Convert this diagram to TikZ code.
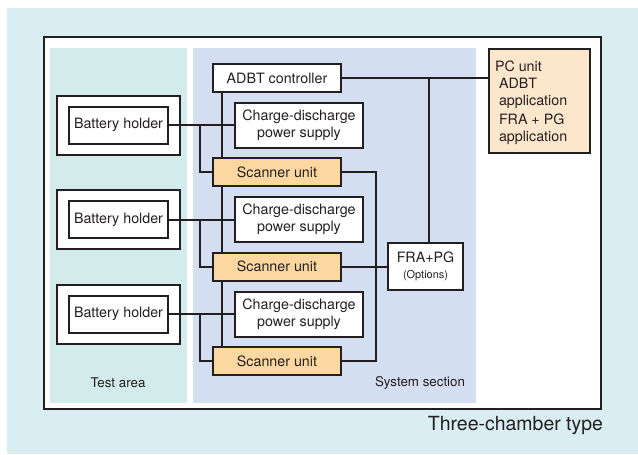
\documentclass[tikz,border=0pt]{standalone}
\usepackage{fontspec}
\setmainfont{TeX Gyre Heros}
\usepackage{xcolor}
\usepackage{tikz}
\definecolor{bgblue}{HTML}{D9EEF2}
\definecolor{testarea}{HTML}{D3EBEB}
\definecolor{syssec}{HTML}{D3DEF0}
\definecolor{scanfill}{HTML}{FCD8A0}
\definecolor{pcfill}{HTML}{FDE7CC}
\definecolor{ink}{HTML}{231F20}

\begin{document}
\begin{tikzpicture}[x=0.75pt, y=-0.75pt, line width=1.5pt,
  txt/.style={font=\fontsize{10.7}{12.5}\selectfont, text=ink, align=center, inner sep=0pt},
  unit/.style={txt, draw=ink, fill=white, minimum width=96pt, minimum height=21pt},
  supply/.style={unit, minimum height=33.75pt},
  scanner/.style={unit, fill=scanfill},
  holder/.style={txt, draw=ink, fill=white, minimum width=74.25pt, minimum height=27.75pt},
  holderbox/.style={draw=ink, fill=white, minimum width=92.25pt, minimum height=44.25pt, inner sep=0pt},
  lbl/.style={font=\fontsize{10}{12}\selectfont, text=ink, inner sep=0pt}]
\useasboundingbox (0,0) rectangle (638,454);
\fill[bgblue] (7,8) rectangle (638,454);
\draw[ink, fill=white] (44,37) rectangle (601,409);
\fill[testarea] (50,48) rectangle (187,403);
\fill[syssec] (193,48) rectangle (476,403);

% controller, PC and FRA
\node[unit] (adbt) at (277,78) {ADBT controller};
\node[draw=ink, fill=pcfill, minimum width=75.75pt, minimum height=78pt] (pc) at (539.5,101) {};
\node[txt, align=left, anchor=north west] (pctext) at (494,59.5)
  {PC unit\\[0.5pt]\hspace*{3pt}ADBT\\\hspace*{3pt}application\\[2pt]\hspace*{3pt}FRA + PG\\\hspace*{3pt}application};
\node[txt, draw=ink, fill=white, minimum width=56.25pt, minimum height=35.25pt] (fra) at (425.5,266.5)
  {FRA+PG\\[-1pt]{\fontsize{8.2}{10}\selectfont (Options)}};

% three chambers
\foreach \i/\y in {1/125,2/219.5,3/314} {
  \node[holderbox] (bh\i) at (118.5,\y) {};
  \node[holder] (bhi\i) at (118.5,\y) {Battery holder};
  \node[supply] (cd\i) at (299,\y) {Charge-discharge\\power supply};
  \coordinate (j\i) at (200,\y);
}
\foreach \i/\y in {1/172,2/266.5,3/361}
  \node[scanner] (sc\i) at (277,\y) {Scanner unit};

% connectors
\draw[ink] (adbt.east) -- (adbt.east -| pc.west);
\draw[ink] ([xshift=2.6pt]fra.north) -- ([xshift=2.6pt]fra.north |- adbt.east);
\draw[ink] ([xshift=7.5pt]adbt.south west) -- ([xshift=7.5pt]sc1.north west);
\draw[ink] ([xshift=7.5pt]sc1.south west) -- ([xshift=7.5pt]sc2.north west);
\draw[ink] ([xshift=7.5pt]sc2.south west) -- ([xshift=7.5pt]sc3.north west);
\foreach \i in {1,2,3} {
  \draw[ink] (bhi\i.east) -- (cd\i.west);
  \draw[ink] (j\i) |- (sc\i.west);
}
\draw[ink] (sc1.east) -- ++(34,0) |- (sc3.east);
\draw[ink] (sc2.east) -- (fra.west);

% area labels
\node[lbl] (testlbl) at (118,383) {Test area};
\node[lbl, anchor=east] (syslbl) at (466,383) {System section};
\node[lbl, font=\fontsize{14.6}{16}\selectfont, anchor=east] (typelbl) at (604,426) {Three-chamber type};
\end{tikzpicture}
\end{document}
